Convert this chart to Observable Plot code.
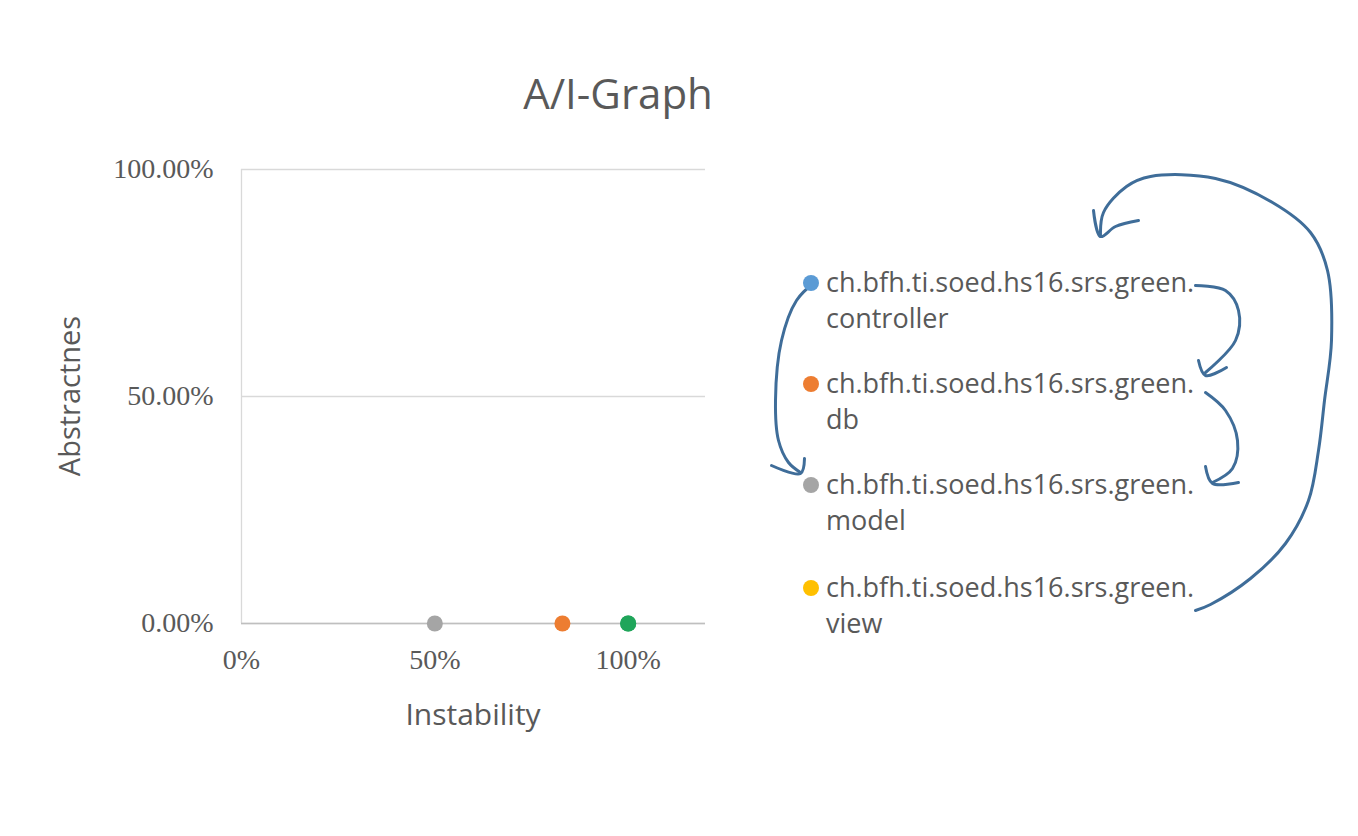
<!DOCTYPE html>
<html>
<head>
<meta charset="utf-8">
<script src="https://cdn.jsdelivr.net/npm/d3@7"></script>
<script src="https://cdn.jsdelivr.net/npm/@observablehq/plot@0.6"></script>
<style>
  body { margin: 0; background: #fff; }
  #wrap { position: relative; width: 1358px; height: 836px; }
  #wrap > div, #wrap > svg, #wrap > figure { position: absolute; left: 0; top: 0; margin: 0; }
  .lbl { font-family: "Open Sans", sans-serif; color: #595959; position: absolute; white-space: nowrap; }
</style>
</head>
<body>
<div id="wrap"></div>
<script>
// packages and their metrics
const names = ["controller", "db", "model", "view"];
const prefix = "ch.bfh.ti.soed.hs16.srs.green.";
const colors = ["#5b9bd5", "#ed7d31", "#a5a5a5", "#ffc000"];
const instability = [1.0, 0.83, 0.5, 1.0];
const abstractness = [0, 0, 0, 0];
// the point visible at 100% is drawn green in the picture
const dotColors = ["#1fa55a", "#ed7d31", "#a5a5a5", "#1fa55a"];

const yTicks = [0, 0.5, 1];
const xTicks = [0, 0.5, 1];

// hand-drawn arrows (page pixel coordinates)
const arrows = [
  [[1195,610],[1210,604],[1250,578],[1285,543],[1308,500],[1318,450],[1324,400],[1331,340],[1327,270],[1310,232],[1272,202],[1215,178],[1150,176],[1126,186],[1103,212],[1100,236]],
  [[1093,210],[1100,236],[1115,226],[1138,220]],
  [[815,281],[796,300],[781,340],[775,400],[778,440],[788,462],[800,472]],
  [[771,465],[800,473],[804,458]],
  [[1195,285],[1225,290],[1238,310],[1235,340],[1205,372]],
  [[1198,360],[1205,375],[1226,367]],
  [[1205,392],[1225,410],[1237,440],[1232,468],[1212,482]],
  [[1205,466],[1212,483],[1238,482]]
];

const data = names.map((n, i) => ({name: n, I: instability[i], A: abstractness[i], c: dotColors[i]}));
const wrap = document.getElementById("wrap");

const chart = Plot.plot({
  width: 1358, height: 836,
  marginLeft: 241, marginRight: 653, marginTop: 169, marginBottom: 213,
  style: {fontFamily: "'Liberation Serif', serif", fontSize: "28px", color: "#595959", background: "transparent"},
  x: {domain: [0, 1.2], ticks: xTicks, tickFormat: d3.format(".0%"), tickSize: 0, tickPadding: 26, label: null},
  y: {domain: [0, 1], ticks: yTicks, tickFormat: d3.format(".2%"), tickSize: 0, tickPadding: 28, label: null},
  marks: [
    Plot.gridY(yTicks, {stroke: "#d9d9d9", strokeOpacity: 1, strokeWidth: 1.3}),
    Plot.ruleX([0], {stroke: "#d9d9d9", strokeWidth: 1.3}),
    Plot.ruleY([0], {stroke: "#bfbfbf", strokeWidth: 1.3}),
    Plot.dot(data, {x: "I", y: "A", r: 8, fill: "c"})
  ]
});
wrap.appendChild(chart);

const ann = Plot.plot({
  width: 1358, height: 836, margin: 0,
  style: {background: "transparent"},
  x: {domain: [0, 1358], axis: null},
  y: {domain: [0, 836], range: [0, 836], axis: null},
  marks: arrows.map(a => Plot.line(a, {x: d => d[0], y: d => d[1], stroke: "#3f6d99", strokeWidth: 3, curve: "catmull-rom"}))
});
wrap.appendChild(ann);

function label(text, x, y, size, extra) {
  const d = document.createElement("div");
  d.className = "lbl";
  d.textContent = text;
  d.style.left = x + "px"; d.style.top = y + "px"; d.style.fontSize = size + "px";
  if (extra) Object.assign(d.style, extra);
  wrap.appendChild(d);
}
label("A/I-Graph", 618, 92, 42, {transform: "translate(-50%,-50%)"});
label("Instability", 473, 713, 30, {transform: "translate(-50%,-50%)"});
label("Abstractnes", 68, 396, 29, {transform: "translate(-50%,-50%) rotate(-90deg)"});

const legY = [283, 384, 485, 588];
names.forEach((n, i) => {
  const dot = document.createElement("div");
  Object.assign(dot.style, {position: "absolute", left: "803px", top: (legY[i] - 8) + "px", width: "16px", height: "16px", borderRadius: "50%", background: colors[i]});
  wrap.appendChild(dot);
  label(prefix, 826, legY[i] - 20, 27);
  label(n, 826, legY[i] + 16, 27);
});
</script>
</body>
</html>
